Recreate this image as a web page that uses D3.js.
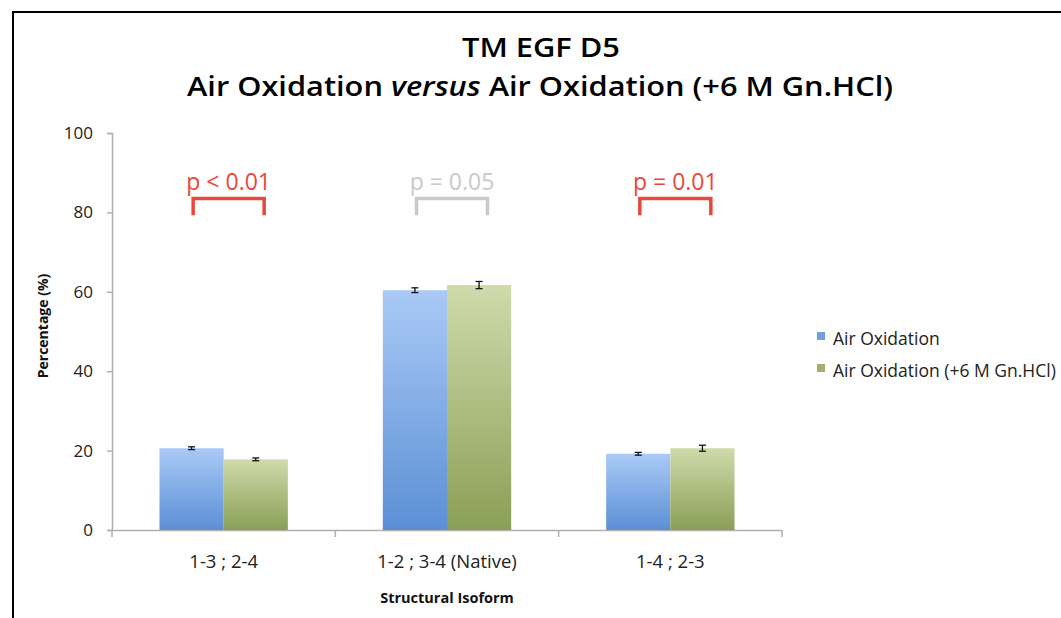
<!DOCTYPE html>
<html>
<head>
<meta charset="utf-8">
<script src="https://cdn.jsdelivr.net/npm/d3@7"></script>
<style>
  body { margin: 0; background: #fff; }
  svg { display: block; }
  text { font-family: "Open Sans", "Liberation Sans", sans-serif; }
</style>
</head>
<body>
<svg id="chart" width="1061" height="618"></svg>
<script>
// Disulfide isoform distribution, two oxidation conditions
const categories = ["1-3 ; 2-4", "1-2 ; 3-4 (Native)", "1-4 ; 2-3"];
const seriesNames = ["Air Oxidation", "Air Oxidation (+6 M Gn.HCl)"];
const airOxidation = [20.6, 60.4, 19.2];
const airOxidationGn = [17.8, 61.7, 20.6];
const airOxidationErr = [0.35, 0.6, 0.35];
const airOxidationGnErr = [0.35, 0.9, 0.75];
const yTicks = [0, 20, 40, 60, 80, 100];
const pLabels = ["p < 0.01", "p = 0.05", "p = 0.01"];
const pSignificant = [true, false, true];

const svg = d3.select("#chart");
const W = 1061, H = 618;
const x0 = 112, x1 = 782, yTop = 133, yBot = 530;

// Frame
svg.append("path")
  .attr("d", `M13,${H} L13,12 L${W},12`)
  .attr("fill", "none").attr("stroke", "#000").attr("stroke-width", 2);

// Defs: gradients
const defs = svg.append("defs");
const grads = [
  { id: "gBlue", top: "#aacaf7", bottom: "#5b8fd5" },
  { id: "gGreen", top: "#cfdbab", bottom: "#8a9f56" }
];
grads.forEach(g => {
  const lg = defs.append("linearGradient").attr("id", g.id)
    .attr("x1", 0).attr("y1", 0).attr("x2", 0).attr("y2", 1);
  lg.append("stop").attr("offset", "0%").attr("stop-color", g.top);
  lg.append("stop").attr("offset", "100%").attr("stop-color", g.bottom);
});

const x = d3.scaleBand().domain(categories).range([x0, x1]).paddingInner(0).paddingOuter(0);
const xs = d3.scaleBand().domain(seriesNames).range([0, x.bandwidth()]).paddingInner(0).paddingOuter(0.74);
const y = d3.scaleLinear().domain([0, 100]).range([yBot, yTop]);

// Title
svg.append("text").attr("x", 541).attr("y", 57).attr("text-anchor", "middle")
  .attr("font-size", 27).attr("font-weight", 600).attr("fill", "#000")
  .attr("textLength", 158).attr("lengthAdjust", "spacingAndGlyphs")
  .text("TM EGF D5");
const t2 = svg.append("text").attr("x", 540).attr("y", 96).attr("text-anchor", "middle")
  .attr("font-size", 27).attr("font-weight", 600).attr("fill", "#000")
  .attr("textLength", 706).attr("lengthAdjust", "spacingAndGlyphs");
t2.append("tspan").text("Air Oxidation ");
t2.append("tspan").attr("font-style", "italic").text("versus");
t2.append("tspan").text(" Air Oxidation (+6 M Gn.HCl)");

// Y axis
const yAxis = svg.append("g").attr("transform", `translate(${x0},0)`)
  .call(d3.axisLeft(y).tickValues(yTicks).tickSize(5).tickPadding(14));
yAxis.select(".domain").attr("stroke", "#b0b0b0").attr("stroke-width", 1.5);
yAxis.selectAll(".tick line").attr("stroke", "#b0b0b0").attr("stroke-width", 1.5);
yAxis.selectAll(".tick text").attr("font-size", 17).attr("fill", "#222")
  .attr("font-family", "'Open Sans', sans-serif");

// X axis
const xAxis = svg.append("g").attr("transform", `translate(0,${yBot})`)
  .call(d3.axisBottom(x).tickSize(0).tickPadding(25));
xAxis.select(".domain").attr("stroke", "#b0b0b0").attr("stroke-width", 1.5);
xAxis.selectAll(".tick text").attr("font-size", 18.5).attr("fill", "#222")
  .attr("font-family", "'Open Sans', sans-serif");
// category separator ticks
const sepX = [x0].concat(categories.map(c => x(c) + x.bandwidth()));
svg.append("g").selectAll("line").data(sepX).join("line")
  .attr("x1", d => d).attr("x2", d => d).attr("y1", yBot).attr("y2", yBot + 7)
  .attr("stroke", "#b0b0b0").attr("stroke-width", 1.5);

// Bars
const series = [
  { name: seriesNames[0], values: airOxidation, err: airOxidationErr, fill: "url(#gBlue)" },
  { name: seriesNames[1], values: airOxidationGn, err: airOxidationGnErr, fill: "url(#gGreen)" }
];
const barsG = svg.append("g");
series.forEach(s => {
  barsG.selectAll(null).data(categories).join("rect")
    .attr("x", c => x(c) + xs(s.name))
    .attr("width", xs.bandwidth())
    .attr("y", (c, i) => y(s.values[i]))
    .attr("height", (c, i) => yBot - y(s.values[i]))
    .attr("fill", s.fill);
});
// Error bars
series.forEach(s => {
  categories.forEach((c, i) => {
    const cx = x(c) + xs(s.name) + xs.bandwidth() / 2;
    const hi = y(s.values[i] + s.err[i]), lo = y(s.values[i] - s.err[i]);
    const g = barsG.append("g").attr("stroke", "#111").attr("stroke-width", 1.3);
    g.append("line").attr("x1", cx).attr("x2", cx).attr("y1", hi).attr("y2", lo);
    g.append("line").attr("x1", cx - 3.5).attr("x2", cx + 3.5).attr("y1", hi).attr("y2", hi);
    g.append("line").attr("x1", cx - 3.5).attr("x2", cx + 3.5).attr("y1", lo).attr("y2", lo);
  });
});

// Significance brackets
const brG = svg.append("g");
categories.forEach((c, i) => {
  const cx = x(c) + x.bandwidth() / 2 + 5;
  const color = pSignificant[i] ? "#e8483a" : "#c9c9c9";
  const bx0 = cx - 35.5, bx1 = cx + 35.5, by0 = y(83.5), by1 = y(79.3);
  brG.append("path")
    .attr("d", `M${bx0},${by1} L${bx0},${by0} L${bx1},${by0} L${bx1},${by1}`)
    .attr("fill", "none").attr("stroke", color).attr("stroke-width", 3.5);
  brG.append("text").attr("x", cx).attr("y", 190).attr("text-anchor", "middle")
    .attr("font-size", 23).attr("fill", color).text(pLabels[i]);
});

// Axis titles
svg.append("text").attr("transform", `translate(48,326) rotate(-90)`)
  .attr("text-anchor", "middle").attr("font-size", 14).attr("font-weight", 700)
  .attr("fill", "#111").text("Percentage (%)");
svg.append("text").attr("x", x(categories[1]) + x.bandwidth() / 2).attr("y", 603)
  .attr("text-anchor", "middle").attr("font-size", 14.5).attr("font-weight", 700)
  .attr("fill", "#111").text("Structural Isoform");

// Legend
const legendColors = ["#6e9fe3", "#9db16c"];
const lg = svg.append("g").attr("transform", "translate(817,332)");
seriesNames.forEach((n, i) => {
  const row = lg.append("g").attr("transform", `translate(0,${i * 32})`);
  row.append("rect").attr("width", 8).attr("height", 8).attr("fill", legendColors[i]);
  row.append("text").attr("x", 16).attr("y", 13).attr("font-size", 17.5).attr("fill", "#222").text(n);
});
</script>
</body>
</html>
